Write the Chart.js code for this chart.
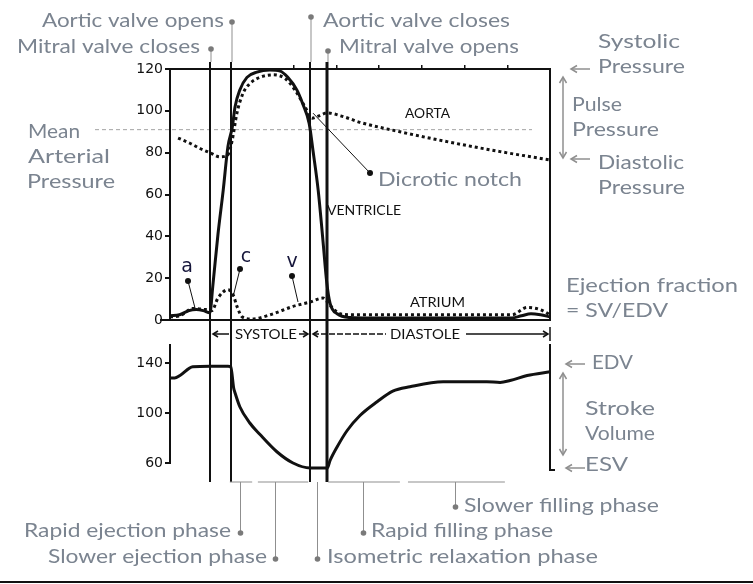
<!DOCTYPE html>
<html><head><meta charset="utf-8">
<script src="https://cdn.jsdelivr.net/npm/chart.js@4/dist/chart.umd.min.js"></script>
<style>
html,body{margin:0;padding:0;background:#fff;}
#wrap{position:relative;width:753px;height:584px;overflow:hidden;background:#fff;}
#wrap canvas{position:absolute;left:0;top:0;}
</style></head><body>
<div id="wrap"><canvas id="pc" width="753" height="584"></canvas><canvas id="vc" width="753" height="584"></canvas></div>
<script>
// time within one cardiac cycle, ms
const timeMin = 0, timeMax = 800;
const pressureTicks = [0, 20, 40, 60, 80, 100, 120];
const volumeTicks = [60, 100, 140];
const cycleTicks = [260, 350, 440, 530, 620, 710];

// left ventricular pressure (mmHg)
const ventricleTime = [0, 20, 40, 55, 70, 84, 90, 101, 112, 122, 131, 137, 147, 162, 183, 210, 232, 248, 267, 280, 293, 301, 312, 322, 330, 337, 352, 380, 420, 720, 740, 760, 780, 800];
const ventriclePressure = [2, 2.5, 4.5, 5, 4.5, 3.5, 16, 41, 62, 83, 92, 102, 110, 116, 118.5, 119.5, 119, 116, 110, 103, 94, 81, 62, 38, 18, 8, 3, 1.2, 1, 1, 2, 3, 2.5, 1.5];

// aortic pressure (mmHg)
const aortaTime = [17, 42, 63, 84, 105, 122, 131, 141, 154, 168, 189, 217, 242, 263, 284, 299, 312, 331, 368, 400, 484, 589, 695, 800];
const aortaPressure = [87, 84.5, 82, 80, 78, 79, 86, 99, 108.5, 113, 116, 117.2, 115.5, 110, 102, 96.5, 97.5, 99, 97, 94.5, 90, 85, 80.5, 76.5];

// left atrial pressure (mmHg)
const atriumTime = [0, 21, 48, 74, 88, 101, 122, 133, 141, 152, 173, 211, 259, 295, 322, 337, 358, 385, 720, 752, 779, 800];
const atriumPressure = [1.5, 2, 5.5, 5, 4.5, 10.5, 14.5, 12, 6.5, 1.5, 0.5, 2.5, 6.5, 8.6, 10.5, 7, 3, 2.5, 2.5, 6, 5, 2.5];

// left ventricular volume (ml)
const volumeTime = [0, 10, 21, 48, 84, 122, 128, 134, 137, 147, 168, 189, 225, 259, 295, 331, 337, 352, 373, 400, 436, 469, 505, 575, 667, 695, 716, 752, 800];
const ventricularVolume = [128, 128, 130, 137, 137.5, 137.5, 137, 120, 116, 105, 92, 83, 69, 60, 56, 56, 62, 73, 86, 98, 109, 117.5, 121, 125, 125, 124.5, 126, 130, 133];

// valve events (ms): mitral closes, aortic opens, aortic closes, mitral opens
const valveEventTimes = [84, 128, 295, 331];
const meanArterialPressure = 91;
const dicroticNotch = [299, 96.5];
// phase markers (ms): rapid ejection, slower ejection, isometric relaxation, rapid filling, slower filling
const phaseTimes = [147, 221, 309, 406, 600];
const phaseSpans = [[126, 173], [185, 291], [333, 484], [501, 705]];

const INK = '#111';
const GT = '#7b8490';
const GL = '#8f8f8f';
Chart.defaults.font.family = 'DejaVu Sans';

const zip = (a, b) => a.map((t, i) => ({x: t, y: b[i]}));

function line(ctx, x1, y1, x2, y2, color, w, dash) {
  ctx.save(); ctx.strokeStyle = color; ctx.lineWidth = w; if (dash) ctx.setLineDash(dash);
  ctx.beginPath(); ctx.moveTo(x1, y1); ctx.lineTo(x2, y2); ctx.stroke(); ctx.restore();
}
function dot(ctx, x, y, r, color) {
  ctx.save(); ctx.fillStyle = color; ctx.beginPath(); ctx.arc(x, y, r, 0, Math.PI * 2); ctx.fill(); ctx.restore();
}
function chevron(ctx, x, y, ang, color, w, len = 6, hw = 3.5) {
  ctx.save(); ctx.translate(x, y); ctx.rotate(ang); ctx.strokeStyle = color; ctx.lineWidth = w;
  ctx.beginPath(); ctx.moveTo(-len, -hw); ctx.lineTo(0, 0); ctx.lineTo(-len, hw); ctx.stroke(); ctx.restore();
}
function arrow(ctx, x1, y1, x2, y2, color, w, both) {
  line(ctx, x1, y1, x2, y2, color, w);
  const a = Math.atan2(y2 - y1, x2 - x1);
  chevron(ctx, x2, y2, a, color, w);
  if (both) chevron(ctx, x1, y1, a + Math.PI, color, w);
}
function txt(ctx, s, x, y, opt) {
  const o = Object.assign({font: '20px Lato', color: GT, align: 'left', width: null}, opt || {});
  ctx.save(); ctx.font = o.font; ctx.fillStyle = o.color; ctx.textBaseline = 'alphabetic';
  const w = ctx.measureText(s).width;
  const k = o.width ? o.width / w : 1;
  let x0 = x;
  if (o.align === 'right') x0 = x - w * k;
  else if (o.align === 'center') x0 = x - w * k / 2;
  ctx.translate(x0, y); ctx.scale(k, 1); ctx.textAlign = 'left'; ctx.fillText(s, 0, 0);
  ctx.restore();
}

const overlay = {
  id: 'overlay',
  beforeDatasetsDraw(chart) {
    const ctx = chart.ctx, X = chart.scales.x, Y = chart.scales.y;
    // mean arterial pressure
    const ym = Y.getPixelForValue(meanArterialPressure);
    line(ctx, 95, ym, 532, ym, '#a3a3a3', 1, [4, 3]);
    // valve event lines through both panels
    valveEventTimes.forEach((t, i) => {
      const x = Math.round(X.getPixelForValue(t));
      line(ctx, x, 62, x, 482, INK, i === 3 ? 3 : 2);
    });
  },
  afterDraw(chart) {
    const ctx = chart.ctx, X = chart.scales.x, Y = chart.scales.y;
    const ex = valveEventTimes.map(t => Math.round(X.getPixelForValue(t)));

    // extend zero line a little left of the axis
    line(ctx, 160, Y.getPixelForValue(0), 170, Y.getPixelForValue(0), INK, 2);

    // top valve labels
    const topDots = [49, 22, 17, 51];
    ex.forEach((x, i) => { line(ctx, x + 1, topDots[i], x + 1, 62, GL, 1); dot(ctx, x + 1, topDots[i], 2.8, '#7a7a7a'); });
    txt(ctx, 'Aortic valve opens', 224, 27, {align: 'right', width: 182});
    txt(ctx, 'Mitral valve closes', 200, 53, {align: 'right', width: 183});
    txt(ctx, 'Aortic valve closes', 323, 27, {width: 187});
    txt(ctx, 'Mitral valve opens', 339, 53, {width: 180});

    // right side pressure notes
    txt(ctx, 'Systolic', 598, 48, {width: 82});
    txt(ctx, 'Pressure', 598, 73, {width: 87});
    txt(ctx, 'Pulse', 572, 111, {width: 50});
    txt(ctx, 'Pressure', 572, 136, {width: 87});
    txt(ctx, 'Diastolic', 598, 169, {width: 86});
    txt(ctx, 'Pressure', 598, 194, {width: 87});
    arrow(ctx, 590, 69, 571, 69, GL, 1.5);
    arrow(ctx, 590, 159, 571, 159, GL, 1.5);
    arrow(ctx, 563, 77, 563, 158, GL, 1.5, true);

    // mean arterial pressure label
    txt(ctx, 'Mean', 28, 138, {width: 52});
    txt(ctx, 'Arterial', 28, 163, {width: 82});
    txt(ctx, 'Pressure', 27, 188, {width: 88});

    // dicrotic notch
    const nx = X.getPixelForValue(dicroticNotch[0]) + 1, ny = Y.getPixelForValue(dicroticNotch[1]) - 5;
    line(ctx, 370, 173, nx, ny, INK, 1);
    dot(ctx, 370, 173, 3, INK);
    txt(ctx, 'Dicrotic notch', 378, 186, {width: 144});

    // curve names
    txt(ctx, 'AORTA', 405, 118, {font: '13px Lato', color: INK, width: 45});
    ctx.save(); ctx.fillStyle = '#fff'; ctx.fillRect(ex[3] + 2, 201, 76, 18); ctx.restore();
    txt(ctx, 'VENTRICLE', 327, 215, {font: '13px Lato', color: INK, width: 74});
    txt(ctx, 'ATRIUM', 410, 307, {font: '13px Lato', color: INK, width: 55});

    // a, c, v waves
    const WC = '#15153a';
    txt(ctx, 'a', 187, 272, {font: '19px DejaVu Sans', color: WC, align: 'center'});
    txt(ctx, 'c', 246, 262, {font: '19px DejaVu Sans', color: WC, align: 'center'});
    txt(ctx, 'v', 292, 267, {font: '19px DejaVu Sans', color: WC, align: 'center'});
    line(ctx, 188, 281, 195, 308, INK, 1); dot(ctx, 188, 281, 3, INK);
    line(ctx, 240, 269, 233, 297, INK, 1); dot(ctx, 240, 269, 3, INK);
    line(ctx, 292, 276, 298, 302, INK, 1); dot(ctx, 292, 276, 3, INK);

    // systole / diastole bar
    const yb = 334;
    line(ctx, ex[0] + 3, yb, ex[0] + 19, yb, INK, 1.5); chevron(ctx, ex[0] + 3, yb, Math.PI, INK, 1.5, 5, 3);
    line(ctx, 299, yb, ex[2] - 2, yb, INK, 1.5); chevron(ctx, ex[2] - 2, yb, 0, INK, 1.5, 5, 3);
    txt(ctx, 'SYSTOLE', 235, 339, {font: '13px Lato', color: INK, width: 62});
    line(ctx, ex[2] + 3, yb, 386, yb, INK, 1.5, [6, 2]); chevron(ctx, ex[2] + 3, yb, Math.PI, INK, 1.5, 5, 3);
    line(ctx, 466, yb, 548, yb, INK, 1.5); chevron(ctx, 548, yb, 0, INK, 1.5, 5, 3);
    line(ctx, 550, 327, 550, 341, INK, 1.5);
    txt(ctx, 'DIASTOLE', 390, 339, {font: '13px Lato', color: INK, width: 70});

    // right side volume notes
    txt(ctx, 'Ejection fraction', 566, 292, {width: 172});
    txt(ctx, '= SV/EDV', 566, 317, {width: 102});
    txt(ctx, 'EDV', 592, 369, {width: 41});
    txt(ctx, 'Stroke', 585, 415, {width: 70});
    txt(ctx, 'Volume', 585, 440, {width: 70});
    txt(ctx, 'ESV', 585, 471, {width: 43});
    arrow(ctx, 585, 364, 566, 364, GL, 1.5);
    arrow(ctx, 585, 468, 566, 468, GL, 1.5);
    arrow(ctx, 563, 373, 563, 455, GL, 1.5, true);

    // volume panel right axis foot
    line(ctx, 550, 462, 550, 471, INK, 2);
    line(ctx, 549, 470, 555, 470, INK, 2);

    // phase brackets
    const yk = 482;
    phaseSpans.forEach(([a, b]) => line(ctx, X.getPixelForValue(a), yk, X.getPixelForValue(b), yk, GL, 1));
    const phaseDotY = [533, 559, 559, 533, 507];
    phaseTimes.forEach((t, i) => {
      const x = Math.round(X.getPixelForValue(t)) + 0.5;
      line(ctx, x, yk, x, phaseDotY[i], GL, 1);
      dot(ctx, x, phaseDotY[i], 2.8, '#7a7a7a');
    });
    txt(ctx, 'Rapid ejection phase', 231, 537, {align: 'right', width: 207});
    txt(ctx, 'Slower ejection phase', 267, 563, {align: 'right', width: 219});
    txt(ctx, 'Isometric relaxation phase', 327, 563, {width: 271});
    txt(ctx, 'Rapid filling phase', 371, 537, {width: 182});
    txt(ctx, 'Slower filling phase', 464, 512, {width: 195});

    // bottom rule
    ctx.save(); ctx.fillStyle = INK; ctx.fillRect(0, 581, 753, 2); ctx.restore();
  }
};

const dashed = {borderColor: INK, borderWidth: 3, borderDash: [3, 3], borderCapStyle: 'butt', pointRadius: 0, cubicInterpolationMode: 'monotone', fill: false, xAxisID: 'x', yAxisID: 'y'};

new Chart(document.getElementById('pc'), {
  type: 'line',
  data: {datasets: [
    Object.assign({label: 'Aorta', data: zip(aortaTime, aortaPressure)}, dashed),
    Object.assign({label: 'Atrium', data: zip(atriumTime, atriumPressure)}, dashed),
    {label: 'Ventricle', data: zip(ventricleTime, ventriclePressure), borderColor: INK, borderWidth: 3, pointRadius: 0, cubicInterpolationMode: 'monotone', fill: false, xAxisID: 'x', yAxisID: 'y'}
  ]},
  options: {
    responsive: false, animation: false, devicePixelRatio: 1,
    layout: {padding: {left: 0, right: 203, top: 69, bottom: 264}},
    plugins: {legend: {display: false}, tooltip: {enabled: false}},
    scales: {
      x: {type: 'linear', min: timeMin, max: timeMax, position: 'bottom', ticks: {display: false}, grid: {display: false}, border: {display: true, color: INK, width: 2}, afterFit(s) { s.height = 0; }},
      xt: {type: 'linear', min: timeMin, max: timeMax, position: 'top', ticks: {display: false},
        grid: {drawOnChartArea: false, drawTicks: true, tickLength: 4, color: INK, lineWidth: 1.5},
        border: {display: true, color: INK, width: 2},
        afterBuildTicks(s) { s.ticks = cycleTicks.map(v => ({value: v})); }, afterFit(s) { s.height = 0; }},
      y: {type: 'linear', min: 0, max: 120, position: 'left',
        afterBuildTicks(s) { s.ticks = pressureTicks.map(v => ({value: v})); },
        ticks: {font: {family: 'DejaVu Sans', size: 14}, color: INK, padding: 2},
        grid: {drawOnChartArea: false, drawTicks: true, tickLength: 5, color: INK, lineWidth: 2},
        border: {display: true, color: INK, width: 2}, afterFit(s) { s.width = 170; }},
      yr: {type: 'linear', min: 0, max: 1, position: 'right', ticks: {display: false}, grid: {display: false}, border: {display: true, color: INK, width: 2}, afterFit(s) { s.width = 0; }}
    }
  },
  plugins: [overlay]
});

new Chart(document.getElementById('vc'), {
  type: 'line',
  data: {datasets: [
    {label: 'Ventricular volume', data: zip(volumeTime, ventricularVolume), borderColor: INK, borderWidth: 3, pointRadius: 0, cubicInterpolationMode: 'monotone', fill: false, clip: false, xAxisID: 'x', yAxisID: 'y'}
  ]},
  options: {
    responsive: false, animation: false, devicePixelRatio: 1,
    layout: {padding: {left: 0, right: 203, top: 345, bottom: 121}},
    plugins: {legend: {display: false}, tooltip: {enabled: false}},
    scales: {
      x: {type: 'linear', min: timeMin, max: timeMax, display: false},
      y: {type: 'linear', min: 60, max: 154.4, position: 'left',
        afterBuildTicks(s) { s.ticks = volumeTicks.map(v => ({value: v})); },
        ticks: {font: {family: 'DejaVu Sans', size: 14}, color: INK, padding: 2},
        grid: {drawOnChartArea: false, drawTicks: true, tickLength: 5, color: INK, lineWidth: 2},
        border: {display: true, color: INK, width: 2}, afterFit(s) { s.width = 170; }},
      yr: {type: 'linear', min: 0, max: 1, position: 'right', ticks: {display: false}, grid: {display: false}, border: {display: true, color: INK, width: 2}, afterFit(s) { s.width = 0; }}
    }
  }
});
</script>
</body></html>
